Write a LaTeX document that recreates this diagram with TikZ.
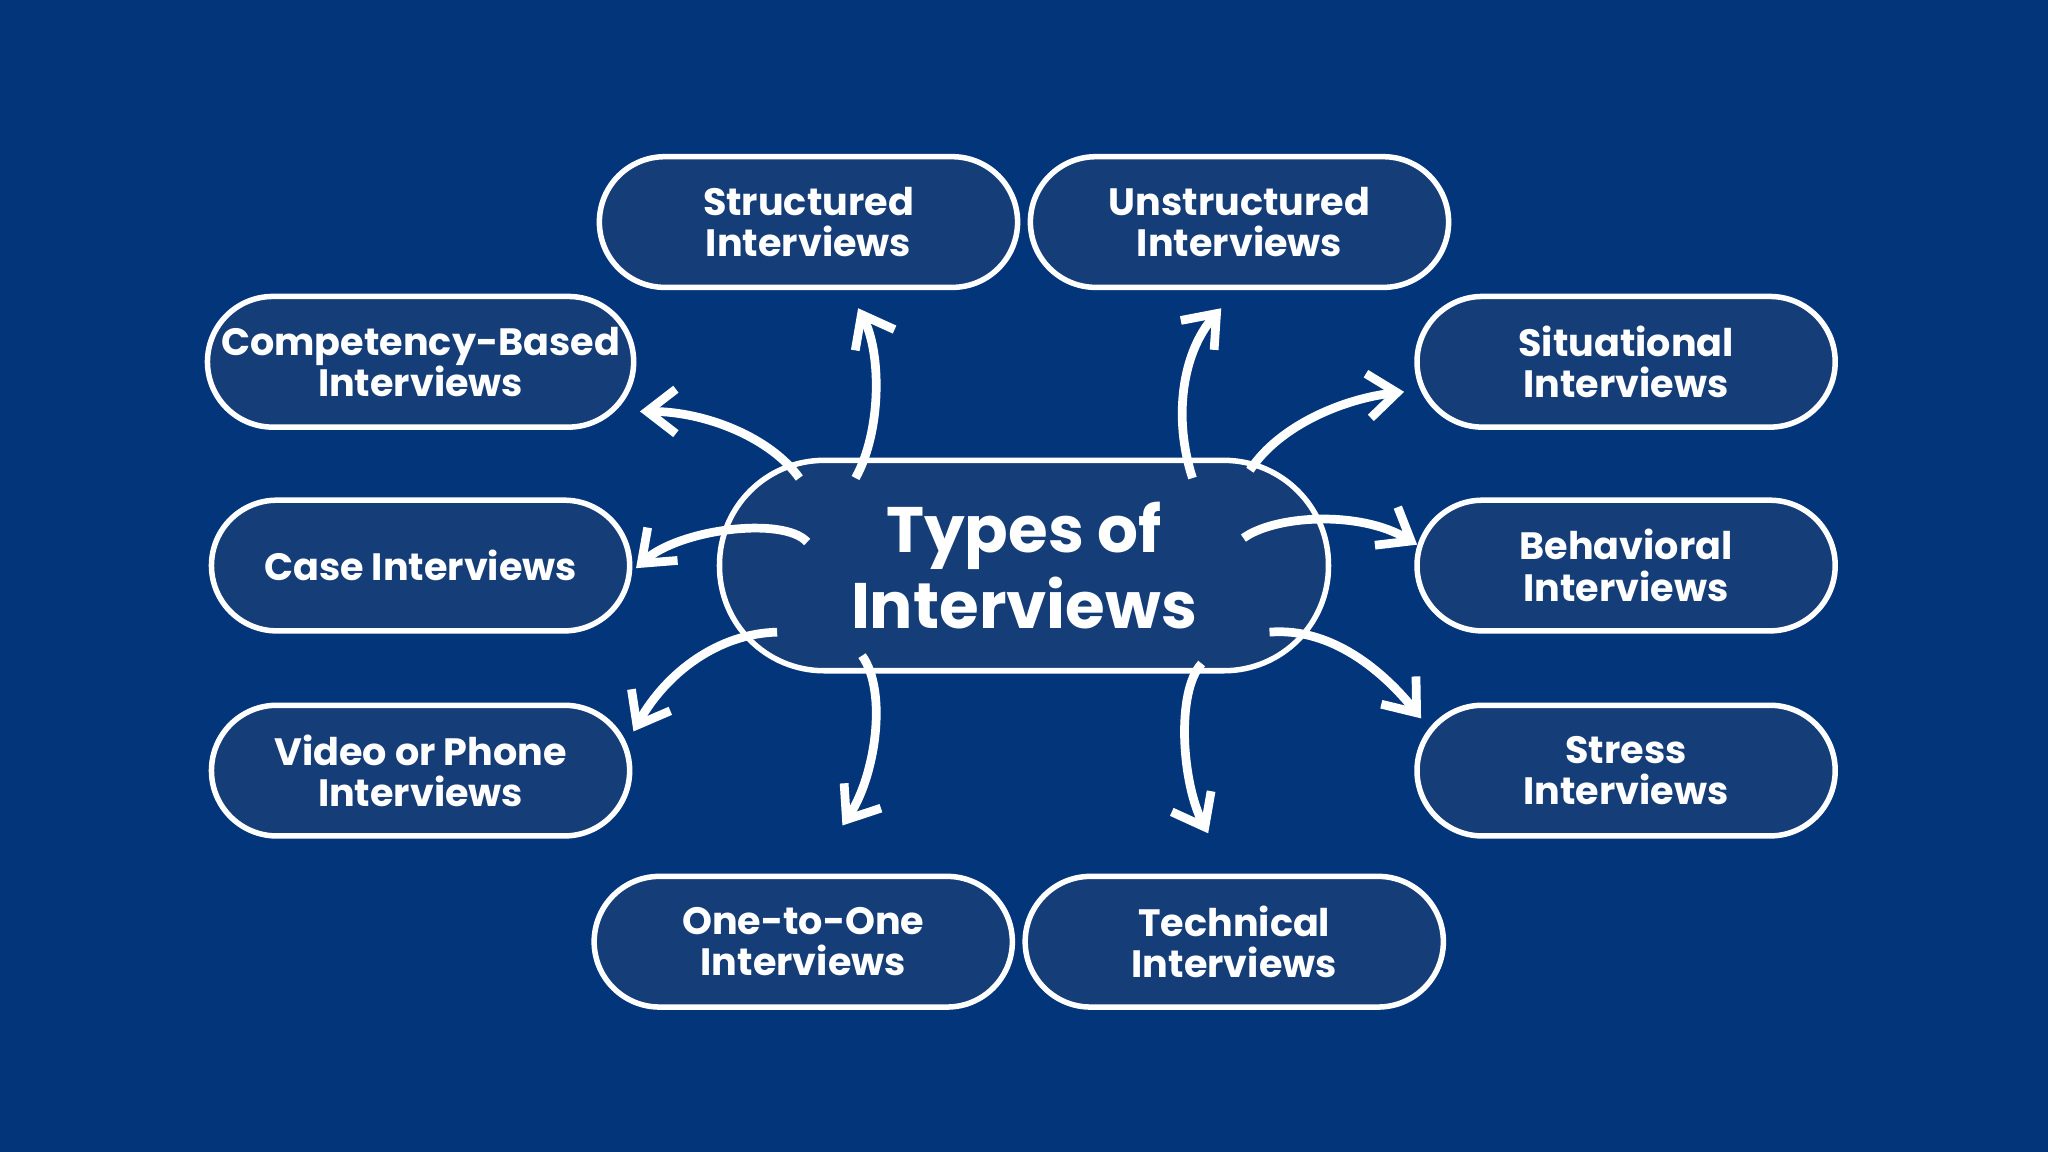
\documentclass[tikz,border=0pt]{standalone}
\usepackage{fontspec}
\setmainfont{Poppins}
\usetikzlibrary{arrows.meta}
\definecolor{bgblue}{HTML}{03357A}
\definecolor{pillblue}{HTML}{153D78}
\begin{document}
\begin{tikzpicture}[x=0.01cm,y=-0.01cm,
    pill/.style={rectangle, draw=white, line width=1.2pt, fill=pillblue,
      rounded corners=0.5cm, minimum width=3.2cm, inner xsep=3pt,
      minimum height=1cm, text=white, align=center,
      font=\bfseries\fontsize{8.3}{9}\selectfont},
    hub/.style={pill, minimum width=4.66cm, minimum height=1.61cm,
      rounded corners=0.8cm, font=\bfseries\fontsize{14}{16.5}\selectfont},
    line/.style={draw=white, line width=1.9pt, -{Straight Barb[length=2.2mm,width=3.4mm]}}]
    \fill[bgblue] (0,0) rectangle (1568,882);

    % Place nodes
    \node [hub] (types) at (784,433) {Types of\\Interviews};
    \node [pill] (structured) at (619,170) {Structured\\Interviews};
    \node [pill] (unstructured) at (949,170) {Unstructured\\Interviews};
    \node [pill] (competency) at (322,277) {Competency-Based\\Interviews};
    \node [pill] (situational) at (1245,277) {Situational\\Interviews};
    \node [pill] (case) at (322,433) {Case Interviews};
    \node [pill] (behavioral) at (1245,433) {Behavioral\\Interviews};
    \node [pill] (video) at (322,590) {Video or Phone\\Interviews};
    \node [pill] (stress) at (1245,590) {Stress\\Interviews};
    \node [pill] (onetoone) at (615,721) {One-to-One\\Interviews};
    \node [pill] (technical) at (945,721) {Technical\\Interviews};

    % arrow ends
    \coordinate (s1) at (612,366); \coordinate (e1) at (490,315);
    \coordinate (s2) at (655,366); \coordinate (e2) at (657,236);
    \coordinate (s3) at (913,366); \coordinate (e3) at (935,236);
    \coordinate (s4) at (957,360); \coordinate (e4) at (1075,300);
    \coordinate (s5) at (952,412); \coordinate (e5) at (1085,417);
    \coordinate (s6) at (972,484); \coordinate (e6) at (1088,550);
    \coordinate (s7) at (920,508); \coordinate (e7) at (925,638);
    \coordinate (s8) at (660,502); \coordinate (e8) at (645,632);
    \coordinate (s9) at (595,484); \coordinate (e9) at (485,560);
    \coordinate (s10) at (618,415); \coordinate (e10) at (487,435);

    \begin{scope}[every path/.style=line]
    \path (s1) .. controls (590,335) and (540,315) .. (e1);
    \path (s2) .. controls (675,330) and (675,270) .. (e2);
    \path (s3) .. controls (898,320) and (905,270) .. (e3);
    \path (s4) .. controls (980,325) and (1030,305) .. (e4);
    \path (s5) .. controls (975,395) and (1040,390) .. (e5);
    \path (s6) .. controls (1020,480) and (1060,515) .. (e6);
    \path (s7) .. controls (900,530) and (905,600) .. (e7);
    \path (s8) .. controls (680,530) and (670,595) .. (e8);
    \path (s9) .. controls (550,485) and (510,515) .. (e9);
    \path (s10) .. controls (600,395) and (520,405) .. (e10);
    \end{scope}
\end{tikzpicture}
\end{document}
